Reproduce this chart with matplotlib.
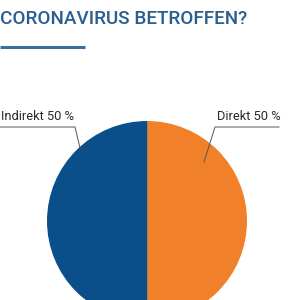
import matplotlib
matplotlib.use("Agg")
import matplotlib.pyplot as plt

title = "CORONAVIRUS BETROFFEN?"
labels = ["Direkt", "Indirekt"]
values = [50, 50]
colors = ["#f0812a", "#0b4f8a"]

fig = plt.figure(figsize=(3, 3), dpi=100)
ax = fig.add_axes([0, 0, 1, 1])

ax.pie(values, colors=colors, startangle=90, counterclock=False,
       center=(147, 79), radius=100, frame=True,
       wedgeprops=dict(linewidth=0))
ax.plot([147, 147], [0, 179], color="#7a7a7a", lw=0.4)
ax.set_xlim(0, 300)
ax.set_ylim(0, 300)
ax.set_aspect("equal")
ax.axis("off")

ax.text(0, 281, title, fontsize=13.6, fontweight="medium", family="Roboto",
        color="#2a5f8f", va="center", ha="left")
ax.plot([0, 85], [253, 253], color="#3a6e9e", lw=2.2, solid_capstyle="butt")

# label leaders
ax.text(1, 184, f"{labels[1]} {values[1]} %", fontsize=9.3, family="Roboto",
        color="#2a2a2a", va="center", ha="left")
ax.plot([0, 75, 80], [173, 173, 152], color="#555555", lw=0.7)
ax.text(217, 184, f"{labels[0]} {values[0]} %", fontsize=9.3, family="Roboto",
        color="#2a2a2a", va="center", ha="left")
ax.plot([279, 215, 204], [173, 173, 138], color="#555555", lw=0.7)

fig.savefig("out.png", dpi=100)
